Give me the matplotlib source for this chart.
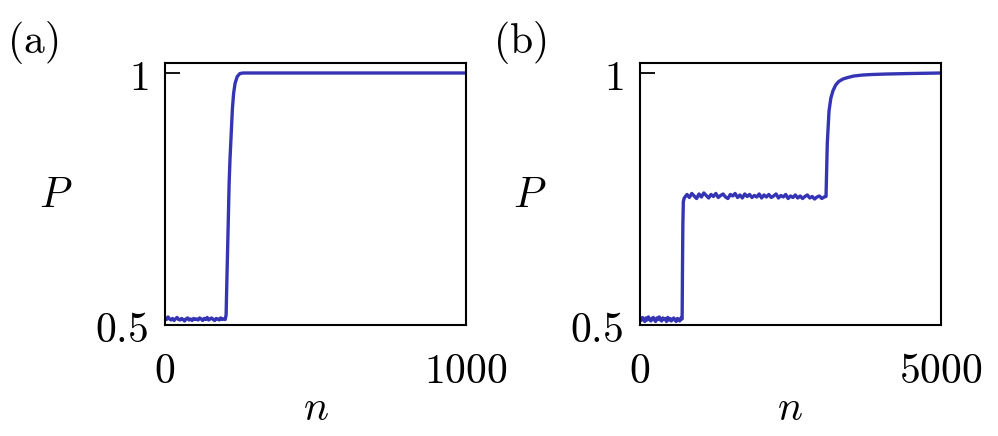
import matplotlib
matplotlib.use("Agg")
import matplotlib.pyplot as plt

plt.rcParams['mathtext.fontset'] = 'cm'
plt.rcParams['font.family'] = 'serif'
plt.rcParams['font.serif'] = ['DejaVu Serif']

# panel (a): probability P against step n
n_a = [0, 5, 10, 15, 20, 25, 30, 35, 40, 45, 50, 55, 60, 65, 70, 75, 80, 85, 90, 95,
       100, 105, 110, 115, 120, 125, 130, 135, 140, 145, 150, 155, 160, 165, 170, 175,
       180, 185, 190, 195, 200, 203, 206, 210, 213, 216, 220, 224, 228, 233, 240, 249,
       260, 300, 400, 500, 600, 700, 800, 900, 1000]
p_a = [0.514, 0.511, 0.516, 0.512, 0.510, 0.513, 0.509, 0.512, 0.515, 0.511, 0.510,
       0.513, 0.511, 0.508, 0.512, 0.514, 0.510, 0.512, 0.509, 0.513, 0.511, 0.512,
       0.510, 0.514, 0.512, 0.509, 0.513, 0.511, 0.515, 0.510, 0.512, 0.514, 0.511,
       0.509, 0.513, 0.512, 0.510, 0.514, 0.511, 0.512, 0.511, 0.52, 0.60, 0.70, 0.78,
       0.83, 0.88, 0.93, 0.96, 0.98, 0.993, 0.999, 1.0, 1.0, 1.0, 1.0, 1.0, 1.0, 1.0,
       1.0, 1.0]

# panel (b)
n_b = [0, 20, 40, 60, 80, 100, 120, 140, 160, 180, 200, 220, 240, 260, 280, 300, 320,
       340, 360, 380, 400, 420, 440, 460, 480, 500, 520, 540, 560, 580, 600, 620, 640,
       660, 680, 700, 705, 712, 720, 735,
       780, 820, 860, 900, 940, 980, 1020, 1060, 1100, 1140, 1180, 1220, 1260, 1300,
       1340, 1380, 1420, 1460, 1500, 1540, 1580, 1620, 1660, 1700, 1740, 1780, 1820,
       1860, 1900, 1940, 1980, 2020, 2060, 2100, 2140, 2180, 2220, 2260, 2300, 2340,
       2380, 2420, 2460, 2500, 2540, 2580, 2620, 2660, 2700, 2740, 2780, 2820, 2860,
       2900, 2940, 2980, 3020, 3060, 3090,
       3111, 3140, 3170, 3206, 3250, 3300, 3370, 3450, 3550, 3700, 3850, 4100, 4500, 5000]
p_b = [0.512, 0.509, 0.515, 0.511, 0.507, 0.514, 0.510, 0.516, 0.511, 0.508, 0.513,
       0.515, 0.510, 0.507, 0.514, 0.511, 0.516, 0.510, 0.508, 0.514, 0.511, 0.513,
       0.507, 0.515, 0.510, 0.513, 0.508, 0.511, 0.514, 0.510, 0.507, 0.513, 0.511,
       0.508, 0.514, 0.512, 0.60, 0.70, 0.745, 0.752,
       0.759, 0.753, 0.761, 0.756, 0.751, 0.760, 0.754, 0.762, 0.757, 0.752, 0.759,
       0.755, 0.761, 0.753, 0.757, 0.760, 0.754, 0.751, 0.759, 0.756, 0.761, 0.753,
       0.758, 0.752, 0.760, 0.755, 0.759, 0.753, 0.757, 0.754, 0.760, 0.752, 0.758,
       0.754, 0.759, 0.753, 0.756, 0.760, 0.752, 0.757, 0.754, 0.759, 0.751, 0.756,
       0.753, 0.758, 0.752, 0.756, 0.751, 0.755, 0.758, 0.752, 0.755, 0.750, 0.754,
       0.756, 0.751, 0.754, 0.755,
       0.86, 0.925, 0.950, 0.965, 0.976, 0.983, 0.988, 0.991, 0.994, 0.996, 0.997,
       0.998, 0.999, 1.0]

line_color = '#3434b4'

fig = plt.figure(figsize=(9.98, 4.36), dpi=100)
W, H = 998.0, 436.0


def make_axes(left_px, data_n, data_p, xmax, xlabel_right):
    ax = fig.add_axes([left_px / W, (H - 325) / H, 301 / W, (325 - 63) / H])
    ax.plot(data_n, data_p, color=line_color, lw=2.4)
    ax.set_xlim(0, xmax)
    ax.set_ylim(0.5, 1.0 + 0.5 * 10 / 252)
    ax.set_yticks([0.5, 1.0])
    ax.set_yticklabels(['$0.5$', '$1$'], fontsize=30)
    ax.set_xticks([0, xmax])
    ax.set_xticklabels(['$0$', xlabel_right], fontsize=30)
    ax.tick_params(axis='y', direction='in', length=11, width=1.3, pad=12)
    ax.tick_params(axis='x', length=0, pad=18)
    for s in ax.spines.values():
        s.set_linewidth(1.5)
    return ax


ax1 = make_axes(165, n_a, p_a, 1000, '$1000$')
ax2 = make_axes(640, n_b, p_b, 5000, '$5000$')

fig.text(33 / W, 1 - 43 / H, r'$(\mathrm{a})$', fontsize=30, ha='center', va='center')
fig.text(520 / W, 1 - 43 / H, r'$(\mathrm{b})$', fontsize=30, ha='center', va='center')
fig.text(56 / W, 1 - 195 / H, '$P$', fontsize=30, ha='center', va='center')
fig.text(530 / W, 1 - 195 / H, '$P$', fontsize=30, ha='center', va='center')
fig.text(316 / W, 1 - 408 / H, '$n$', fontsize=30, ha='center', va='center')
fig.text(790 / W, 1 - 408 / H, '$n$', fontsize=30, ha='center', va='center')

fig.savefig('out.png', dpi=100)
